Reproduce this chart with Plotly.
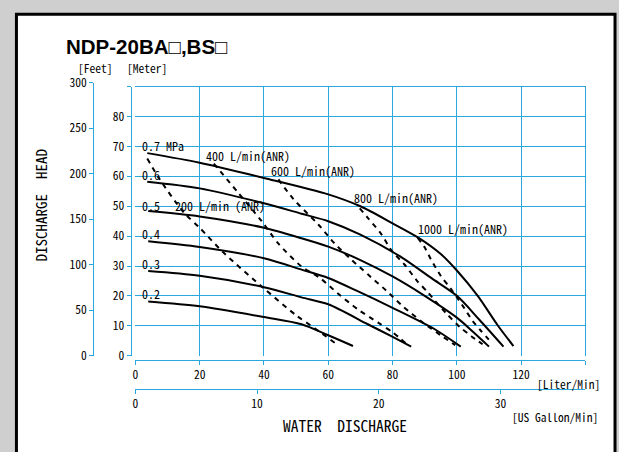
import plotly.graph_objects as go

W, H = 619, 452

# ---------------- data (flow in L/min, head in m) ----------------
lpm_ticks = [0, 20, 40, 60, 80, 100, 120, 140]
lpm_labels = ["0", "20", "40", "60", "80", "100", "120", ""]
gpm_ticks = [0, 10, 20, 30]
gpm_labels = ["0", "10", "20", "30"]
meter_ticks = [0, 10, 20, 30, 40, 50, 60, 70, 80, 90]
meter_labels = ["0", "10", "20", "30", "40", "50", "60", "70", "80", ""]
feet_ticks = [0, 50, 100, 150, 200, 250, 300]
feet_labels = ["0", "50", "100", "150", "200", "250", "300"]

# air pressure curves (solid)
p07_x = [3.7, 20, 40, 60, 70, 80, 88, 95, 100, 106.5, 112.8, 117.6]
p07_y = [67.8, 64.6, 59.5, 54.0, 50.0, 44.3, 39.5, 34.0, 28.5, 20.0, 10.0, 3.2]
p06_x = [3.7, 20, 40, 51.7, 60, 70, 82.7, 92, 100, 107, 114.5]
p06_y = [58.2, 56.0, 51.0, 47.5, 45.0, 40.5, 33.0, 26.0, 20.0, 12.0, 3.0]
p05_x = [4, 20, 40, 51.7, 60, 70, 80, 90, 100, 105, 110]
p05_y = [48.4, 46.6, 42.8, 39.3, 36.5, 32.0, 26.5, 20.0, 12.7, 8.0, 3.0]
p04_x = [4, 20, 40, 51.7, 60, 69.3, 80, 93, 101.2]
p04_y = [38.3, 36.4, 32.6, 28.8, 26.0, 21.5, 16.0, 8.9, 3.0]
p03_x = [4, 20, 40, 51.7, 60, 72.3, 79.6, 85.8]
p03_y = [28.3, 26.7, 22.9, 19.5, 17.2, 10.5, 6.5, 3.0]
p02_x = [4, 20, 40, 51.7, 60, 67.7]
p02_y = [18.1, 16.5, 12.9, 10.5, 6.8, 3.2]

# air consumption lines (dashed)
a200_x = [3.7, 7.3, 15, 20, 27.4, 40, 50, 56, 62]
a200_y = [66.0, 59.5, 48.0, 42.8, 34.5, 22.5, 13.5, 9.0, 4.3]
a400_x = [24.4, 32, 39.3, 44.5, 51.7, 57.4, 63, 69.3, 75.4, 80, 84.5]
a400_y = [64.3, 54.5, 45.0, 37.5, 29.8, 26.0, 20.8, 15.4, 11.1, 7.8, 3.8]
a600_x = [44.5, 49.1, 56.9, 62, 67.2, 72.3, 78, 83.2, 89.4, 95, 99.5]
a600_y = [59.0, 52.5, 43.9, 37.5, 32.1, 27.2, 21.8, 16.5, 11.1, 6.8, 3.5]
a800_x = [69.8, 72.3, 76.5, 79.6, 83.7, 87.8, 90.9, 93, 97, 101, 104.5, 108]
a800_y = [49.3, 46.1, 40.7, 35.3, 30.5, 24.8, 21.3, 18.6, 13.8, 9.5, 6.5, 3.8]
a1000_x = [87.8, 89.9, 92, 95, 98.1, 102.3, 104.9, 107.4, 111]
a1000_y = [39.4, 36.4, 32.1, 26.7, 22.4, 15.9, 11.6, 8.4, 4.1]

pressure_labels = ["0.7 MPa", "0.6", "0.5", "0.4", "0.3", "0.2"]
air_labels = ["200 L/min (ANR)", "400 L/min(ANR)", "600 L/min(ANR)",
              "800 L/min(ANR)", "1000 L/min(ANR)"]

# label placement (data coordinates)
pressure_label_x = [1.55] * 6
pressure_label_y = [70.5, 60.6, 50.3, 40.9, 30.8, 20.8]
air_label_x = [11.8, 21.3, 41.6, 67.4, 87.3]
air_label_y = [50.1, 66.9, 62.0, 52.8, 42.5]

# ---------------- styling ----------------
BLUE = "#2aa7df"
MONO = "Noto Sans Mono CJK JP, Liberation Mono, monospace"
LPM_PER_GPM = 3.785411784

x0px, x1px = 133.0, 585.3
yb_px, yt_px = 359.3, 80.7
dom_x = [x0px / W, x1px / W]
dom_y = [1 - yb_px / H, 1 - yt_px / H]
feet_top = dom_y[0] + (dom_y[1] - dom_y[0]) * (300 * 0.3048 / 90)

fig = go.Figure()

solid = [(p07_x, p07_y), (p06_x, p06_y), (p05_x, p05_y),
         (p04_x, p04_y), (p03_x, p03_y), (p02_x, p02_y)]
for (xs, ys), name in zip(solid, pressure_labels):
    fig.add_trace(go.Scatter(x=xs, y=ys, mode="lines", name=name,
                             line=dict(color="black", width=2, shape="spline", smoothing=0.8),
                             showlegend=False, hoverinfo="skip"))

dashed = [(a200_x, a200_y), (a400_x, a400_y), (a600_x, a600_y),
          (a800_x, a800_y), (a1000_x, a1000_y)]
for (xs, ys), name in zip(dashed, air_labels):
    fig.add_trace(go.Scatter(x=xs, y=ys, mode="lines", name=name,
                             line=dict(color="black", width=2, dash="5px,5px",
                                       shape="spline", smoothing=0.8),
                             showlegend=False, hoverinfo="skip"))

# carriers for the decorative axes
fig.add_trace(go.Scatter(x=[], y=[], xaxis="x2", yaxis="y2", showlegend=False, hoverinfo="skip"))
fig.add_trace(go.Scatter(x=[], y=[], xaxis="x3", yaxis="y3", showlegend=False, hoverinfo="skip"))

tickfont = dict(family=MONO, size=11.5, color="black")

annotations = []
for t, x, y in zip(pressure_labels, pressure_label_x, pressure_label_y):
    annotations.append(dict(text=t, x=x, y=y, xref="x", yref="y", xanchor="left",
                            yanchor="middle", showarrow=False,
                            font=dict(family=MONO, size=12, color="black")))
for t, x, y in zip(air_labels, air_label_x, air_label_y):
    annotations.append(dict(text=t, x=x, y=y, xref="x", yref="y", xanchor="left",
                            yanchor="middle", showarrow=False,
                            font=dict(family=MONO, size=12, color="black")))

def pa(text, xpx, ypx, size, xanchor="left", angle=0, family=MONO):
    annotations.append(dict(text=text, x=xpx / W, y=1 - ypx / H, xref="paper", yref="paper",
                            xanchor=xanchor, yanchor="middle", showarrow=False,
                            textangle=angle,
                            font=dict(family=family, size=size, color="black")))

NB = "\u00a0"
pa("<b>NDP-20BA\u25a1,BS\u25a1</b>", 61, 38.5, 20.5, family="Liberation Sans, Arial, DejaVu Sans, sans-serif")
pa("[Feet]", 73, 61, 11.5)
pa("[Meter]", 123, 61, 11.5)
pa("DISCHARGE" + NB * 2 + "HEAD", 37.5, 203.5, 15, xanchor="center", angle=-90)
pa("WATER" + NB * 2 + "DISCHARGE", 343.5, 431, 15.5, xanchor="center")
pa("[Liter/Min]", 535, 388.7, 11.5)
pa("[US Gallon/Min]", 509, 423, 11.5)

fig.update_layout(
    width=W, height=H, autosize=False,
    margin=dict(l=0, r=0, t=0, b=0, pad=0),
    paper_bgcolor="#cfcfcf",
    plot_bgcolor="rgba(0,0,0,0)",
    showlegend=False,
    shapes=[dict(type="rect", xref="paper", yref="paper",
                 x0=13.5 / W, x1=615 / W, y0=-0.05, y1=1 - 5.5 / H,
                 line=dict(color="black", width=3), fillcolor="white", layer="below")],
    xaxis=dict(domain=dom_x, range=[0, 140], side="top", anchor="y",
               showline=True, linecolor=BLUE, linewidth=1.3,
               showgrid=True, gridcolor=BLUE, gridwidth=1.3,
               tickvals=lpm_ticks[1:-1], showticklabels=False, ticks="",
               zeroline=False, fixedrange=True),
    yaxis=dict(domain=dom_y, range=[0, 90], side="right", anchor="x",
               showline=True, linecolor=BLUE, linewidth=1.3,
               showgrid=True, gridcolor=BLUE, gridwidth=1.3,
               tickvals=meter_ticks[1:-1], showticklabels=False, ticks="",
               zeroline=False, fixedrange=True),
    xaxis2=dict(overlaying="x", anchor="free", position=1 - 363.5 / H, side="bottom",
                range=[0, 140], tickmode="array", tickvals=lpm_ticks, ticktext=lpm_labels,
                ticks="outside", ticklen=4, tickwidth=1.3, tickcolor=BLUE,
                showline=True, linecolor=BLUE, linewidth=1.3, showgrid=False,
                zeroline=False, tickfont=tickfont, fixedrange=True),
    xaxis3=dict(domain=dom_x, anchor="free", position=1 - 394.3 / H, side="bottom",
                range=[0, 140 / LPM_PER_GPM], tickmode="array", tickvals=gpm_ticks,
                ticktext=gpm_labels, ticks="outside", ticklen=4, tickwidth=1.3,
                tickcolor=BLUE, showline=True, linecolor=BLUE, linewidth=1.3,
                showgrid=False, zeroline=False, tickfont=tickfont, fixedrange=True),
    yaxis2=dict(overlaying="y", anchor="free", position=128.3 / W, side="left",
                range=[0, 90], tickmode="array", tickvals=meter_ticks, ticktext=meter_labels,
                ticks="outside", ticklen=4, tickwidth=1.3, tickcolor=BLUE,
                showline=True, linecolor=BLUE, linewidth=1.3, showgrid=False,
                zeroline=False, tickfont=tickfont, fixedrange=True),
    yaxis3=dict(domain=[dom_y[0], feet_top], anchor="free", position=90.7 / W, side="left",
                range=[0, 300], tickmode="array", tickvals=feet_ticks, ticktext=feet_labels,
                ticks="outside", ticklen=4, tickwidth=1.3, tickcolor=BLUE,
                showline=True, linecolor=BLUE, linewidth=1.3, showgrid=False,
                zeroline=False, tickfont=tickfont, fixedrange=True),
    annotations=annotations,
)

page_js = (
    "document.documentElement.style.margin='0';"
    "document.documentElement.style.overflow='hidden';"
    "document.body.style.margin='0';document.body.style.padding='0';"
    "document.body.style.overflow='hidden';"
    "var gd=document.getElementById('{plot_id}');"
    "gd.style.position='fixed';gd.style.left='0px';gd.style.top='0px';"
)
fig.write_html("out.html", config={"displayModeBar": False}, post_script=page_js)
